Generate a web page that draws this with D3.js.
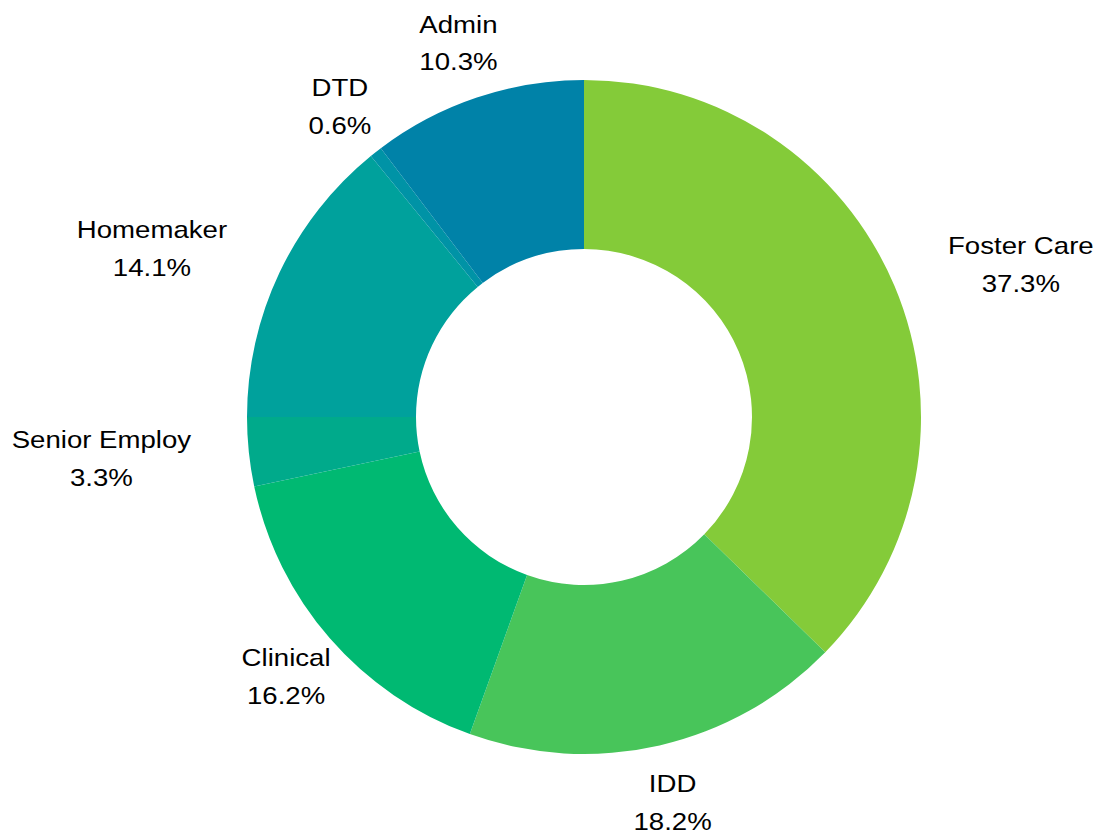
<!DOCTYPE html>
<html>
<head>
<meta charset="utf-8">
<script src="https://cdn.jsdelivr.net/npm/d3@7"></script>
<style>
  body { margin: 0; background: #fff; }
  text { font-family: "Liberation Sans", Arial, sans-serif; }
</style>
</head>
<body>
<div id="chart-area"></div>
<script>
// data
let categories = ["Foster Care", "IDD", "Clinical", "Senior Employ", "Homemaker", "DTD", "Admin"];
let shares = [37.3, 18.2, 16.2, 3.3, 14.1, 0.6, 10.3];
let colors = ["#84cb39", "#48c55a", "#00b972", "#00aa8b", "#00a19c", "#0093a6", "#0082a8"];

let width = 1099,
	height = 836;

let cx = 584, cy = 417,
	outerR = 337, innerR = 168,
	labelR = 395,
	stretch = 1.15; // label glyphs are drawn a bit wider than normal

let svg = d3.select("#chart-area")
	.append("svg")
	.attr("width", width)
	.attr("height", height);

let data = categories.map((c, i) => ({ name: c, value: shares[i], color: colors[i] }));

let pie = d3.pie()
	.sort(null)
	.value(d => d.value);

let arc = d3.arc()
	.innerRadius(innerR)
	.outerRadius(outerR);

let g = svg.append("g")
	.attr("transform", "translate(" + cx + "," + cy + ")");

let arcs = pie(data);

g.selectAll("path")
	.data(arcs)
	.enter()
	.append("path")
	.attr("d", arc)
	.attr("fill", d => d.data.color);

// labels: two centered lines around a point on the label radius,
// pushed sideways by half the text width near 3 and 9 o'clock
let labels = g.selectAll("g.label")
	.data(arcs)
	.enter()
	.append("g")
	.attr("class", "label");

labels.each(function(d) {
	let lg = d3.select(this);
	let inner = lg.append("g").attr("transform", "scale(" + stretch + ",1)");
	let t1 = inner.append("text")
		.attr("text-anchor", "middle")
		.attr("font-size", 24)
		.attr("fill", "#000")
		.attr("y", -10)
		.text(d.data.name);
	let t2 = inner.append("text")
		.attr("text-anchor", "middle")
		.attr("font-size", 24)
		.attr("fill", "#000")
		.attr("y", 28)
		.text(d3.format(".1f")(d.data.value) + "%");
	let w = stretch * Math.max(t1.node().getComputedTextLength(), t2.node().getComputedTextLength());
	let a = (d.startAngle + d.endAngle) / 2;
	let s = Math.sin(a), c = Math.cos(a);
	let x = labelR * s, y = -labelR * c;
	if (Math.abs(c) < 0.5) x += Math.sign(s) * w / 2;
	lg.attr("transform", "translate(" + x + "," + y + ")");
});
</script>
</body>
</html>
